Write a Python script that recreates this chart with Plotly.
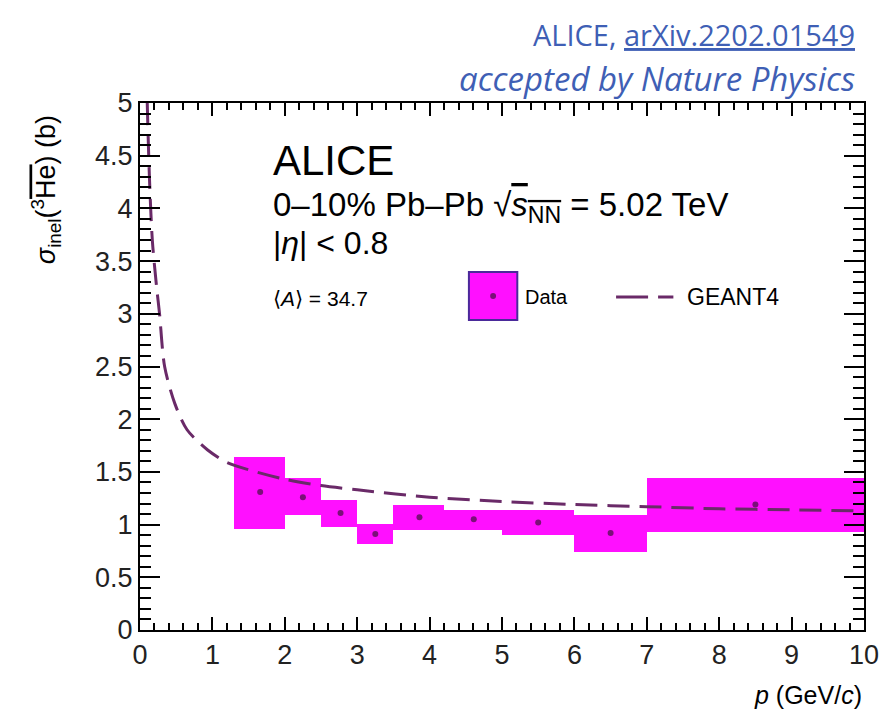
import plotly.graph_objects as go

# Measured inelastic cross section of anti-3He (points) with systematic boxes
p_data = [1.66, 2.25, 2.77, 3.25, 3.86, 4.61, 5.50, 6.50, 8.50]
sigma_data = [1.31, 1.26, 1.11, 0.91, 1.07, 1.05, 1.02, 0.92, 1.19]
box_x_lo = [1.30, 2.00, 2.50, 3.00, 3.50, 4.20, 5.00, 6.00, 7.00]
box_x_hi = [2.00, 2.50, 3.00, 3.50, 4.20, 5.00, 6.00, 7.00, 10.00]
box_y_lo = [0.96, 1.09, 0.98, 0.82, 0.95, 0.95, 0.90, 0.74, 0.93]
box_y_hi = [1.64, 1.44, 1.23, 1.01, 1.19, 1.14, 1.14, 1.09, 1.44]

# GEANT4 expectation
p_geant = [0.10, 0.13, 0.17, 0.23, 0.27, 0.34, 0.48, 0.65, 0.93, 1.20, 1.50,
           2.00, 2.50, 3.00, 4.00, 5.00, 6.00, 7.00, 8.00, 9.00, 10.00]
sigma_geant = [5.00, 4.30, 3.70, 3.25, 3.00, 2.50, 2.15, 1.90, 1.71, 1.59, 1.52,
               1.43, 1.37, 1.33, 1.26, 1.22, 1.19, 1.17, 1.15, 1.14, 1.13]

x_ticks = list(range(0, 11))
y_ticks = [0, 0.5, 1, 1.5, 2, 2.5, 3, 3.5, 4, 4.5, 5]

MAGENTA = "#ff10ff"
DOT = "#7a1078"
CURVE = "#6a2a68"
SANS = "Liberation Sans, Arial, sans-serif"

W, H = 891, 716
L, R, T, B = 140, 18, 103, 86
PW, PH = W - L - R, H - T - B


def px(xp):
    return (xp - L) / PW


def py(yp):
    return (H - B - yp) / PH


fig = go.Figure()

fig.add_trace(go.Bar(
    x=[(a + b) / 2 for a, b in zip(box_x_lo, box_x_hi)],
    y=[h - l for l, h in zip(box_y_lo, box_y_hi)],
    base=box_y_lo,
    width=[b - a for a, b in zip(box_x_lo, box_x_hi)],
    marker=dict(color=MAGENTA, line=dict(width=0)),
    showlegend=False,
))

fig.add_trace(go.Scatter(
    x=p_geant, y=sigma_geant, mode="lines",
    line=dict(color=CURVE, width=3, dash="22px,10px", shape="spline", smoothing=0.8),
    showlegend=False,
))

fig.add_trace(go.Scatter(
    x=p_data, y=sigma_data, mode="markers",
    marker=dict(color=DOT, size=6),
    showlegend=False,
))

shapes = [
    # legend entry for the data
    dict(type="rect", xref="paper", yref="paper",
         x0=px(473), x1=px(522), y0=py(320), y1=py(272),
         fillcolor=MAGENTA, line=dict(color="#4a2a9a", width=2)),
    dict(type="circle", xref="paper", yref="paper",
         x0=px(494.5), x1=px(500.5), y0=py(299), y1=py(293),
         fillcolor=DOT, line=dict(width=0)),
    # legend entry for GEANT4
    dict(type="line", xref="paper", yref="paper",
         x0=px(622), x1=px(680), y0=py(297), y1=py(297),
         line=dict(color=CURVE, width=3, dash="32px,10px")),
]

ann = []


def text(x, y, s, size, xanchor="left", color="black", family=SANS, **kw):
    ann.append(dict(xref="paper", yref="paper", x=px(x), y=py(y), text=s,
                    showarrow=False, xanchor=xanchor, yanchor="middle",
                    font=dict(size=size, color=color, family=family), **kw))


text(273, 160, "ALICE", 42)
text(273, 207, "0–10% Pb–Pb √<span style='text-decoration:overline'><i>s</i><sub>NN</sub></span> = 5.02 TeV", 33)
text(273, 243, "|<i>η</i>| &lt; 0.8", 32)
text(273, 298, "⟨<i>A</i>⟩ = 34.7", 21)
text(528, 297, "Data", 20)
text(692, 297, "GEANT4", 23)

BLUE = "#3f5fb5"
text(866, 35, "ALICE, <u>arXiv.2202.01549</u>", 29, xanchor="right", color=BLUE,
     family="Open Sans, sans-serif")
text(866, 78, "<i>accepted by Nature Physics</i>", 33, xanchor="right", color=BLUE,
     family="Open Sans, sans-serif")

# axis titles
text(873, 695, "<i>p</i> (GeV/<i>c</i>)", 25, xanchor="right")
ann.append(dict(xref="paper", yref="paper", x=px(45), y=py(190),
                text="<i>σ</i><sub>inel</sub>(<sup>3</sup><span style='text-decoration:overline'>He</span>) (b)",
                showarrow=False, textangle=-90, xanchor="center", yanchor="middle",
                font=dict(size=27, color="black", family=SANS)))

axis_common = dict(
    showgrid=False, zeroline=False, showline=True, linecolor="black", linewidth=2,
    mirror="ticks", ticks="inside", tickcolor="black", tickwidth=2,
    tickfont=dict(size=27, color="#222", family=SANS),
)

fig.update_layout(
    width=W, height=H,
    margin=dict(l=L, r=R, t=T, b=B),
    paper_bgcolor="white", plot_bgcolor="white",
    shapes=shapes, annotations=ann,
    bargap=0,
    xaxis=dict(range=[0, 10], tickvals=x_ticks, ticktext=[str(v) for v in x_ticks],
               ticklen=13, minor=dict(dtick=0.2, ticklen=7, ticks="inside",
                                      tickcolor="black", tickwidth=2),
               **axis_common),
    yaxis=dict(range=[0, 5], tickvals=y_ticks, ticktext=[f"{v:g}" for v in y_ticks],
               ticklen=20, minor=dict(dtick=0.1, ticklen=11, ticks="inside",
                                      tickcolor="black", tickwidth=2),
               **axis_common),
)

fig.write_html("out.html")
